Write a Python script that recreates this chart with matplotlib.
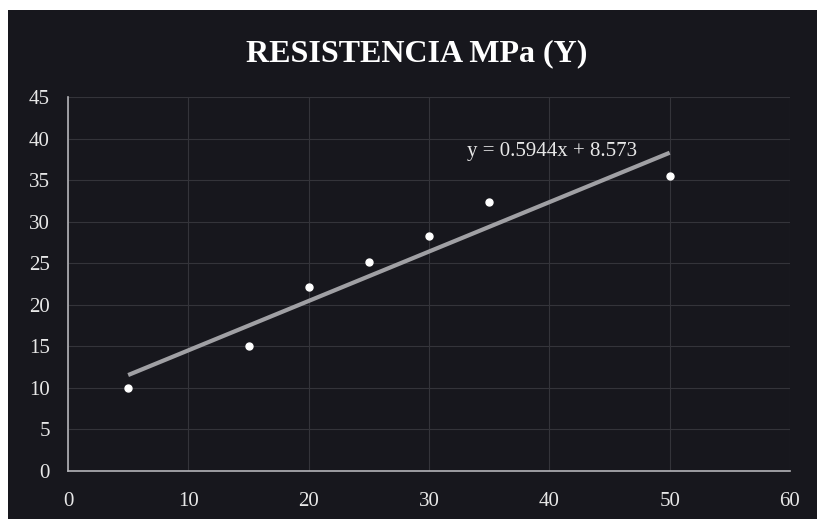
import matplotlib.pyplot as plt
from matplotlib.patches import Rectangle

x = [5, 15, 20, 25, 30, 35, 50]
y = [10, 15, 22.1, 25.1, 28.3, 32.4, 35.5]
slope = 0.5944
intercept = 8.573
x_fit = [5, 50]
y_fit = [slope * v + intercept for v in x_fit]

fig = plt.figure(figsize=(8.17, 5.19), dpi=100, facecolor='white')
fig.patches.append(Rectangle((8 / 817, 0), 1, 509 / 519, transform=fig.transFigure,
                             facecolor='#17171d', edgecolor='none', zorder=-5))

ax = fig.add_axes([68 / 817, 48 / 519, 722 / 817, 374 / 519])
ax.patch.set_alpha(0)

ax.plot(x_fit, y_fit, color='#a0a0a4', lw=3, solid_capstyle='butt', zorder=3)
ax.plot(x, y, 'o', color='white', ms=5, zorder=4)

ax.set_xlim(0, 60)
ax.set_ylim(0, 45)
ax.set_xticks(range(0, 61, 10))
ax.set_yticks(range(0, 46, 5))
ax.grid(color='#34343a', lw=0.8)
ax.set_axisbelow(True)

for s in ['top', 'right']:
    ax.spines[s].set_visible(False)
for s in ['left', 'bottom']:
    ax.spines[s].set_color('#b4b4b8')
    ax.spines[s].set_linewidth(1.2)

ax.tick_params(axis='y', length=0, colors='#e8e8e8', labelsize=15, pad=13)
ax.tick_params(axis='x', length=0, colors='#e8e8e8', labelsize=15, pad=15)
for lab in ax.get_xticklabels() + ax.get_yticklabels():
    lab.set_fontfamily('Liberation Serif')

ax.text(40.2, 38.4, 'y = 0.5944x + 8.573', color='#e8e8e8', fontsize=15,
        family='Liberation Serif', ha='center', va='center')

fig.text(0.51, 0.897, 'RESISTENCIA MPa (Y)', color='white', fontsize=23,
         fontweight='bold', family='Liberation Serif', ha='center', va='center')

fig.savefig('out.png', dpi=100, facecolor=fig.get_facecolor())
